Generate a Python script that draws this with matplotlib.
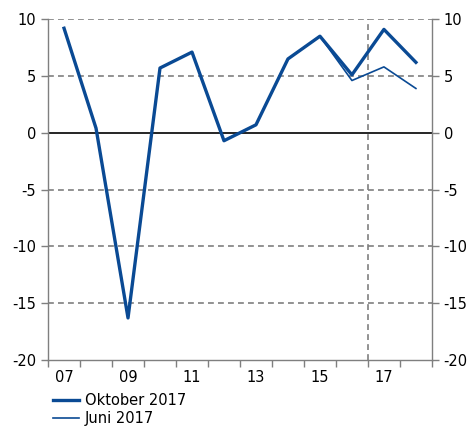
import numpy as np
import matplotlib.pyplot as plt

years = [2007, 2008, 2009, 2010, 2011, 2012, 2013, 2014, 2015, 2016, 2017, 2018]
oktober = [9.2, 0.4, -16.3, 5.7, 7.1, -0.7, 0.7, 6.5, 8.5, 5.1, 9.1, 6.2]
juni = [9.2, 0.4, -16.3, 5.7, 7.1, -0.7, 0.7, 6.5, 8.5, 4.6, 5.8, 3.9]
tick_labels = ['07', '09', '11', '13', '15', '17']

blue = '#0a4a94'
grey = '#7f7f7f'

plt.rcParams['font.family'] = 'DejaVu Sans'
plt.rcParams['font.size'] = 10.5
plt.rcParams['axes.unicode_minus'] = False

fig = plt.figure(figsize=(4.71, 4.26), dpi=100)
ax = fig.add_axes([0.102, 0.155, 0.815, 0.8])

x = np.array(years) + 0.5
ax.plot(x, juni, color=blue, lw=1.2, label='Juni 2017', zorder=3)
ax.plot(x, oktober, color=blue, lw=2.4, label='Oktober 2017', zorder=4)

ax.set_xlim(2007, 2019)
ax.set_ylim(-20, 10)

for yv in [-15, -10, -5, 5, 10]:
    ax.axhline(yv, color=grey, lw=1.2, ls=(0, (3.5, 2.5)), zorder=1)
ax.axhline(0, color='black', lw=1.2, zorder=2)
ax.axvline(2017, color=grey, lw=1.2, ls=(0, (3.5, 2.5)), zorder=1)

ax.set_xticks(range(2007, 2020))
ax.set_xticklabels([])
ax.set_xticks([y + 0.5 for y in range(2007, 2019, 2)], minor=True)
ax.set_xticklabels(tick_labels, minor=True)
ax.tick_params(axis='x', which='major', direction='out', length=5, color=grey, width=1)
ax.tick_params(axis='x', which='minor', length=0, pad=7)

ax.set_yticks(range(-20, 11, 5))
ax.tick_params(axis='y', direction='out', length=5, color=grey, width=1,
               left=True, right=True, labelleft=True, labelright=True)

for s in ['left', 'right', 'bottom']:
    ax.spines[s].set_color(grey)
    ax.spines[s].set_linewidth(1)
ax.spines['top'].set_visible(False)

h, l = ax.get_legend_handles_labels()
fig.legend(h[::-1], l[::-1], loc='lower left', bbox_to_anchor=(0.085, -0.03),
           frameon=False, handlelength=1.8, handletextpad=0.35, labelspacing=0.2,
           fontsize=10.5)

fig.savefig('out.png', dpi=100)
